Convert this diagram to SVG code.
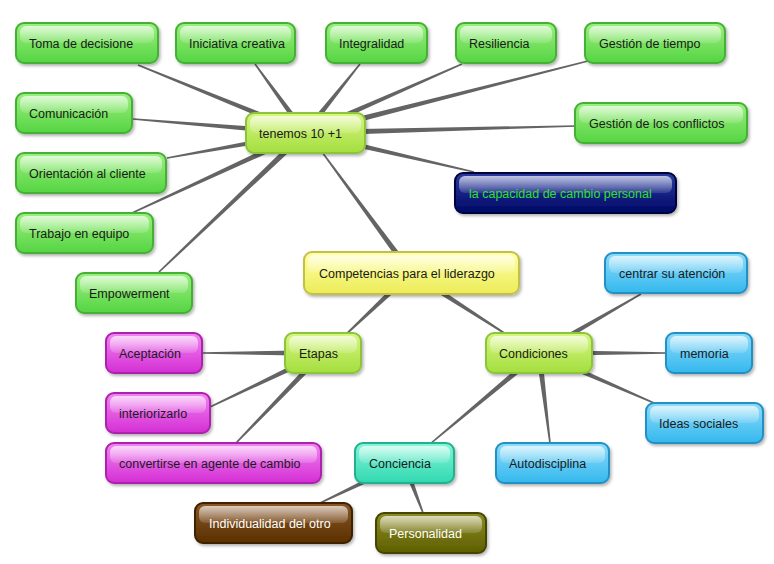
<svg xmlns="http://www.w3.org/2000/svg" width="774" height="564" viewBox="0 0 774 564">
<defs>
<linearGradient id="gGreen" x1="0" y1="0" x2="0" y2="1"><stop offset="0" stop-color="#9cf07f"/><stop offset="1" stop-color="#55d443"/></linearGradient>
<linearGradient id="gLime" x1="0" y1="0" x2="0" y2="1"><stop offset="0" stop-color="#d8f682"/><stop offset="1" stop-color="#a3de3e"/></linearGradient>
<linearGradient id="gYellow" x1="0" y1="0" x2="0" y2="1"><stop offset="0" stop-color="#ffffa6"/><stop offset="1" stop-color="#ecec58"/></linearGradient>
<linearGradient id="gMagenta" x1="0" y1="0" x2="0" y2="1"><stop offset="0" stop-color="#f286f2"/><stop offset="1" stop-color="#d42ed4"/></linearGradient>
<linearGradient id="gCyan" x1="0" y1="0" x2="0" y2="1"><stop offset="0" stop-color="#8edcfa"/><stop offset="1" stop-color="#34b8ee"/></linearGradient>
<linearGradient id="gTeal" x1="0" y1="0" x2="0" y2="1"><stop offset="0" stop-color="#86f6da"/><stop offset="1" stop-color="#30d8b0"/></linearGradient>
<linearGradient id="gBrown" x1="0" y1="0" x2="0" y2="1"><stop offset="0" stop-color="#8a5626"/><stop offset="1" stop-color="#5a3000"/></linearGradient>
<linearGradient id="gOlive" x1="0" y1="0" x2="0" y2="1"><stop offset="0" stop-color="#8c8c24"/><stop offset="1" stop-color="#5e5e00"/></linearGradient>
<linearGradient id="gNavy" x1="0" y1="0" x2="0" y2="1"><stop offset="0" stop-color="#2a3ca2"/><stop offset="1" stop-color="#000866"/></linearGradient>
<linearGradient id="gloss" x1="0" y1="0" x2="0" y2="1"><stop offset="0" stop-color="#ffffff" stop-opacity="0.7"/><stop offset="1" stop-color="#ffffff" stop-opacity="0.12"/></linearGradient>
<filter id="sh" x="-10%" y="-20%" width="130%" height="160%"><feDropShadow dx="1.5" dy="2" stdDeviation="1.5" flood-color="#000" flood-opacity="0.3"/></filter>
</defs>
<style>
.box{stroke-width:2;filter:url(#sh)}
.green{fill:url(#gGreen);stroke:#45b034}
.lime{fill:url(#gLime);stroke:#8cc43a}
.yellow{fill:url(#gYellow);stroke:#c2c048}
.magenta{fill:url(#gMagenta);stroke:#ac22ac}
.cyan{fill:url(#gCyan);stroke:#2490c2}
.teal{fill:url(#gTeal);stroke:#22b08e}
.brown{fill:url(#gBrown);stroke:#3e2000}
.olive{fill:url(#gOlive);stroke:#444400}
.navy{fill:url(#gNavy);stroke:#00053e}
.gl{fill:url(#gloss)}
text{font-family:"Liberation Sans",Arial,sans-serif;font-size:12.5px;fill:#1a1a1a}
.w{fill:#ffffff}
.gt{fill:#2ee02e}
#connectors polygon{fill:#646464}
</style>
<g id="connectors">
<polygon points="306.1,130.2 138.3,64.3 137.7,65.7 303.9,135.8"/>
<polygon points="307.4,131.2 255.6,63.5 254.4,64.5 302.6,134.8"/>
<polygon points="307.3,134.9 360.6,64.5 359.4,63.5 302.7,131.1"/>
<polygon points="306.2,135.7 462.3,64.7 461.7,63.3 303.8,130.3"/>
<polygon points="305.7,135.9 588.2,61.8 587.8,60.2 304.3,130.1"/>
<polygon points="305.1,136 576,126.8 576,125.2 304.9,130"/>
<polygon points="304.3,135.9 473.8,172.8 474.2,171.2 305.7,130.1"/>
<polygon points="305.2,130 133.1,118.2 132.9,119.8 304.8,136"/>
<polygon points="304.5,130.1 166.9,157.2 167.1,158.8 305.5,136"/>
<polygon points="303.7,130.3 131.7,212.3 132.3,213.7 306.3,135.7"/>
<polygon points="302.9,130.8 158.4,271.4 159.6,272.6 307.1,135.2"/>
<polygon points="413.4,271.2 322.6,151.5 321.4,152.5 408.6,274.8"/>
<polygon points="408.9,270.8 339.5,339.4 340.5,340.6 413.1,275.2"/>
<polygon points="409.4,275.5 514.6,340.7 515.4,339.3 412.6,270.5"/>
<polygon points="323,350 202,352.2 202,353.8 323,356"/>
<polygon points="321.7,350.3 209.7,406.3 210.3,407.7 324.3,355.7"/>
<polygon points="320.8,350.9 235.4,442.4 236.6,443.6 325.2,355.1"/>
<polygon points="540.5,355.6 641.4,294.7 640.6,293.3 537.5,350.4"/>
<polygon points="539,356 666,353.8 666,352.2 539,350"/>
<polygon points="537.8,355.8 653.7,403.7 654.3,402.3 540.2,350.3"/>
<polygon points="536,353.4 549.2,443.1 550.8,442.9 542,352.6"/>
<polygon points="537.1,350.7 429.5,443.4 430.5,444.6 540.9,355.3"/>
<polygon points="402.7,460.3 319.7,502.3 320.3,503.7 405.3,465.7"/>
<polygon points="401.2,464.1 422.3,513.3 423.8,512.7 406.8,461.9"/>
</g>
<g id="n-toma"><rect class="box green" x="16" y="23" width="142" height="40" rx="8"/><rect class="gl" x="20" y="26" width="134" height="17" rx="6"/><text x="29" y="48">Toma de decisione</text></g>
<g id="n-iniciativa"><rect class="box green" x="176" y="23" width="119" height="40" rx="8"/><rect class="gl" x="180" y="26" width="111" height="17" rx="6"/><text x="189" y="48">Iniciativa creativa</text></g>
<g id="n-integralidad"><rect class="box green" x="326" y="23" width="101" height="40" rx="8"/><rect class="gl" x="330" y="26" width="93" height="17" rx="6"/><text x="339" y="48">Integralidad</text></g>
<g id="n-resiliencia"><rect class="box green" x="456" y="23" width="100" height="40" rx="8"/><rect class="gl" x="460" y="26" width="92" height="17" rx="6"/><text x="469" y="48">Resiliencia</text></g>
<g id="n-tiempo"><rect class="box green" x="585" y="23" width="140" height="40" rx="8"/><rect class="gl" x="589" y="26" width="132" height="17" rx="6"/><text x="599" y="48">Gestión de tiempo</text></g>
<g id="n-comunicacion"><rect class="box green" x="16" y="93" width="116" height="40" rx="8"/><rect class="gl" x="20" y="96" width="108" height="17" rx="6"/><text x="29" y="118">Comunicación</text></g>
<g id="n-tenemos"><rect class="box lime" x="246" y="113" width="119" height="40" rx="8"/><rect class="gl" x="250" y="116" width="111" height="17" rx="6"/><text x="259" y="138">tenemos 10 +1</text></g>
<g id="n-conflictos"><rect class="box green" x="575" y="103" width="172" height="40" rx="8"/><rect class="gl" x="579" y="106" width="164" height="17" rx="6"/><text x="589" y="128">Gestión de los conflictos</text></g>
<g id="n-orientacion"><rect class="box green" x="16" y="153" width="150" height="40" rx="8"/><rect class="gl" x="20" y="156" width="142" height="17" rx="6"/><text x="29" y="178">Orientación al cliente</text></g>
<g id="n-capacidad"><rect class="box navy" x="455" y="173" width="221" height="40" rx="8"/><rect class="gl" x="459" y="176" width="213" height="17" rx="6"/><text class="gt" x="469" y="198">la capacidad de cambio personal</text></g>
<g id="n-trabajo"><rect class="box green" x="16" y="213" width="137" height="40" rx="8"/><rect class="gl" x="20" y="216" width="129" height="17" rx="6"/><text x="29" y="238">Trabajo en equipo</text></g>
<g id="n-competencias"><rect class="box yellow" x="304" y="252" width="215" height="42" rx="8"/><rect class="gl" x="308" y="255" width="207" height="18" rx="6"/><text x="319" y="278">Competencias para el liderazgo</text></g>
<g id="n-centrar"><rect class="box cyan" x="605" y="253" width="142" height="40" rx="8"/><rect class="gl" x="609" y="256" width="134" height="17" rx="6"/><text x="619" y="278">centrar su atención</text></g>
<g id="n-empowerment"><rect class="box green" x="76" y="273" width="116" height="40" rx="8"/><rect class="gl" x="80" y="276" width="108" height="17" rx="6"/><text x="89" y="298">Empowerment</text></g>
<g id="n-aceptacion"><rect class="box magenta" x="106" y="333" width="96" height="40" rx="8"/><rect class="gl" x="110" y="336" width="88" height="17" rx="6"/><text x="119" y="358">Aceptación</text></g>
<g id="n-etapas"><rect class="box lime" x="285" y="333" width="76" height="40" rx="8"/><rect class="gl" x="289" y="336" width="68" height="17" rx="6"/><text x="299" y="358">Etapas</text></g>
<g id="n-condiciones"><rect class="box lime" x="486" y="333" width="106" height="40" rx="8"/><rect class="gl" x="490" y="336" width="98" height="17" rx="6"/><text x="499" y="358">Condiciones</text></g>
<g id="n-memoria"><rect class="box cyan" x="666" y="333" width="86" height="40" rx="8"/><rect class="gl" x="670" y="336" width="78" height="17" rx="6"/><text x="680" y="358">memoria</text></g>
<g id="n-interiorizarlo"><rect class="box magenta" x="106" y="393" width="104" height="40" rx="8"/><rect class="gl" x="110" y="396" width="96" height="17" rx="6"/><text x="119" y="418">interiorizarlo</text></g>
<g id="n-ideas"><rect class="box cyan" x="646" y="403" width="117" height="40" rx="8"/><rect class="gl" x="650" y="406" width="109" height="17" rx="6"/><text x="659" y="428">Ideas sociales</text></g>
<g id="n-convertirse"><rect class="box magenta" x="106" y="443" width="215" height="40" rx="8"/><rect class="gl" x="110" y="446" width="207" height="17" rx="6"/><text x="119" y="468">convertirse en agente de cambio</text></g>
<g id="n-conciencia"><rect class="box teal" x="355" y="443" width="99" height="40" rx="8"/><rect class="gl" x="359" y="446" width="91" height="17" rx="6"/><text x="369" y="468">Conciencia</text></g>
<g id="n-autodisciplina"><rect class="box cyan" x="496" y="443" width="113" height="40" rx="8"/><rect class="gl" x="500" y="446" width="105" height="17" rx="6"/><text x="509" y="468">Autodisciplina</text></g>
<g id="n-individualidad"><rect class="box brown" x="195" y="503" width="157" height="40" rx="8"/><rect class="gl" x="199" y="506" width="149" height="17" rx="6"/><text class="w" x="209" y="528">Individualidad del otro</text></g>
<g id="n-personalidad"><rect class="box olive" x="376" y="513" width="110" height="40" rx="8"/><rect class="gl" x="380" y="516" width="102" height="17" rx="6"/><text class="w" x="389" y="538">Personalidad</text></g>
</svg>
